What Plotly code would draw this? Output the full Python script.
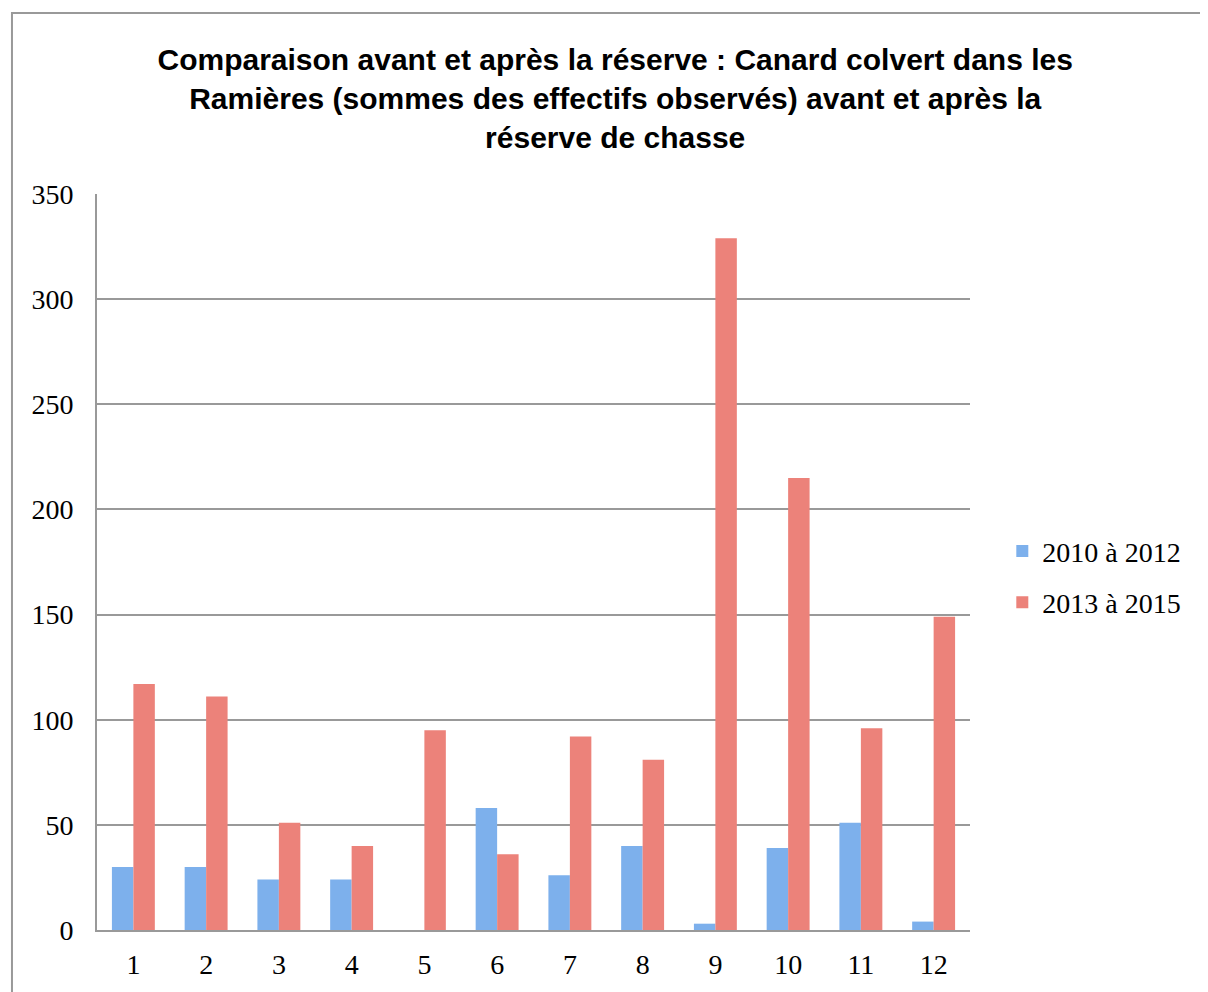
import plotly.graph_objects as go

months = ["1", "2", "3", "4", "5", "6", "7", "8", "9", "10", "11", "12"]
before = [30, 30, 24, 24, 0, 58, 26, 40, 3, 39, 51, 4]
after = [117, 111, 51, 40, 95, 36, 92, 81, 329, 215, 96, 149]
series_names = ["2010 à 2012", "2013 à 2015"]
y_ticks = [0, 50, 100, 150, 200, 250, 300, 350]

title_text = ("Comparaison avant et après la réserve : Canard colvert dans les<br>"
              "Ramières (sommes des effectifs observés) avant et après la<br>"
              "réserve de chasse")

serif = "Liberation Serif, DejaVu Serif, serif"

fig = go.Figure()
fig.add_trace(go.Bar(x=months, y=before, name=series_names[0], legendgroup="a",
                     marker=dict(color="#7DB0EC", line=dict(width=0))))
fig.add_trace(go.Bar(x=months, y=after, name=series_names[1], legendgroup="b",
                     marker=dict(color="#EC827A", line=dict(width=0))))

fig.update_layout(
    width=1200, height=984,
    paper_bgcolor="white", plot_bgcolor="white",
    margin=dict(l=89, r=238, t=186, b=47),
    barmode="group", bargap=0.41, bargroupgap=0.0,
    title=dict(text=title_text, x=0.506, xanchor="center", y=0.937, yanchor="top",
               font=dict(family="Liberation Sans, Arial, sans-serif",
                         size=30, color="black", weight="bold")),
    font=dict(family=serif, size=28, color="black"),
    legend=dict(x=1.037, y=0.48, xanchor="left", yanchor="middle",
                font=dict(family=serif, size=28), tracegroupgap=12,
                itemwidth=30, bgcolor="rgba(0,0,0,0)"),
    xaxis=dict(type="category", showgrid=False, showline=True, linecolor="#999999",
               linewidth=2, ticks="", ticklabelstandoff=8, tickfont=dict(size=28)),
    yaxis=dict(range=[0, 350], tickvals=y_ticks, showgrid=True, gridcolor="#999999",
               gridwidth=2, showline=True, linecolor="#999999", linewidth=2,
               ticks="", ticklabelstandoff=16, zeroline=False, tickfont=dict(size=28)),
    shapes=[dict(type="rect", xref="paper", yref="paper",
                 x0=-0.0974, x1=1.29, y0=-0.1, y1=1.246,
                 line=dict(color="#999999", width=2), fillcolor="rgba(0,0,0,0)",
                 layer="below")],
)

fig.write_html("out.html")
